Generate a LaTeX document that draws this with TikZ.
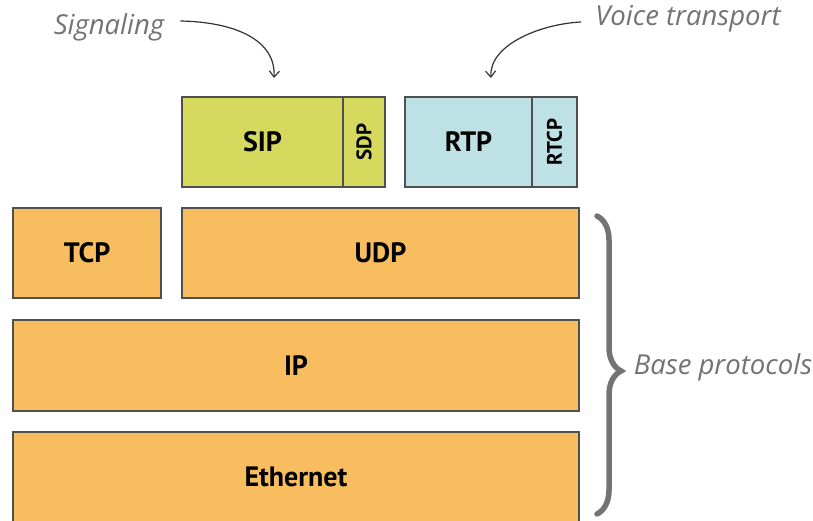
\documentclass[tikz,border=0pt]{standalone}
\usepackage{fontspec}
\setmainfont{PT Sans}
\newfontfamily\notefont{Open Sans}
\usetikzlibrary{positioning,decorations.pathreplacing,arrows.meta}

\definecolor{sipgreen}{HTML}{D5DA5F}
\definecolor{rtpblue}{HTML}{BEE1E6}
\definecolor{baseorange}{HTML}{F7BD5E}
\definecolor{edgegray}{HTML}{505050}
\definecolor{notegray}{HTML}{737373}

\tikzset{
  layer/.style={draw=edgegray, line width=1.3pt, inner sep=0pt, minimum height=90pt,
    font=\fontsize{28}{28}\selectfont\bfseries},
  side/.style={layer, rotate=90, minimum width=90pt,
    font=\fontsize{21}{21}\selectfont\bfseries},
  note/.style={text=notegray, inner sep=0pt, font=\notefont\fontsize{27.5}{28}\selectfont\itshape},
  pointer/.style={-{Straight Barb[length=6pt,width=10pt]}, line width=1.2pt, draw=black!80},
  bracket/.style={draw=notegray, line width=5.5pt, line cap=round,
    decorate, decoration={brace, amplitude=24pt, aspect=0.52}}
}

\begin{document}
\begin{tikzpicture}[x=1pt,y=-1pt]
\useasboundingbox (0,0) rectangle (813,521);

\def\yapp{142}
\def\ytrans{253}
\def\ynet{365.5}
\def\ylink{477}

% signaling and media on top
\node[layer, fill=sipgreen, minimum width=161pt] (sip) at (262.5,\yapp) {SIP};
\node[side, fill=sipgreen, minimum height=42pt] (sdp) at (364,\yapp) {SDP};
\node[layer, fill=rtpblue, minimum width=127pt] (rtp) at (468.5,\yapp) {RTP};
\node[side, fill=rtpblue, minimum height=45pt] (rtcp) at (554.5,\yapp) {RTCP};

% base stack
\node[layer, fill=baseorange, minimum width=148pt] (tcp) at (87,\ytrans) {TCP};
\node[layer, fill=baseorange, minimum width=397pt] (udp) at (380.5,\ytrans) {UDP};
\node[layer, fill=baseorange, minimum width=566pt, minimum height=91pt] (ip) at (296,\ynet) {IP};
\node[layer, fill=baseorange, minimum width=566pt] (eth) at (296,\ylink) {Ethernet};

% notes
\node[note] (signaling) at (109,27) {Signaling};
\node[note] (voice) at (688,19) {Voice transport};
\node[note] (base) at (723,367) {Base protocols};

\coordinate (sigtip) at (274,78);
\coordinate (voicetip) at (491,78);
\draw[pointer] ([xshift=16pt,yshift=6pt]signaling.east) .. controls (235,22) and (276,40) .. (sigtip);
\draw[pointer] ([xshift=-14pt,yshift=-3pt]voice.west) .. controls (540,24) and (489,45) .. (voicetip);

\coordinate (bracetop) at (597,216);
\coordinate (bracebot) at (597,514);
\draw[bracket] (bracetop) -- (bracebot);

\end{tikzpicture}
\end{document}
